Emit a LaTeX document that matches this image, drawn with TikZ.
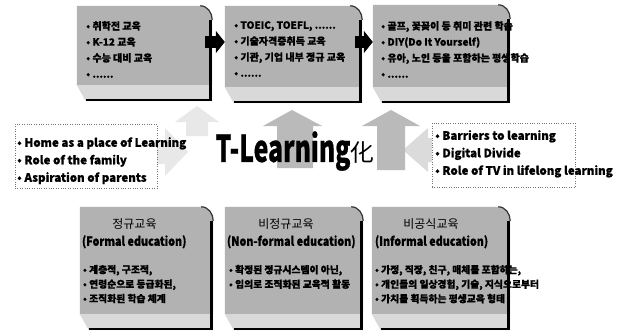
\documentclass[tikz,border=0pt]{standalone}
\usepackage{fontspec}
\usepackage{graphicx}
\setmainfont{Noto Sans CJK KR}[BoldFeatures={FakeBold=0.6}]
\newfontfamily\condfont{Noto Sans CJK KR}[FakeStretch=0.86,BoldFeatures={FakeBold=0.6}]
\usetikzlibrary{arrows.meta,calc}

\tikzset{
  tileface/.style={fill=black!30},
  tilebevel/.style={fill=black!15},
  tileedge/.style={line width=1.2pt, black!80},
  tilebox/.style={draw=none, inner sep=0pt, rectangle},
  sidebox/.style={draw=black!55, dotted, fill=white, inner sep=0pt, rectangle},
  uparrow/.style={fill=black!27},
  sidearrow/.style={fill=black!14},
  faintarrow/.style={fill=black!9},
  blkarrow/.style={line width=12pt, black, -{Triangle[length=9pt,width=22pt]}},
  toptext/.style={anchor=north west, inner sep=0pt, align=left, font=\bfseries\fontsize{10}{16}\selectfont},
  sidetext/.style={anchor=north west, inner sep=0pt, align=left, font=\bfseries\fontsize{11.5}{17.5}\selectfont},
  headtext/.style={inner sep=0pt, font=\fontsize{12}{12}\selectfont},
  engtext/.style={anchor=west, inner sep=0pt, font=\condfont\bfseries\fontsize{12.5}{12.5}\selectfont},
  bottext/.style={anchor=north west, inner sep=0pt, align=left, font=\bfseries\fontsize{9.8}{14.5}\selectfont},
}

\newcommand\tileshape[1]{%
  \fill[tileface] (#1.north west) -- ([xshift=-12pt]#1.north east) to[out=0,in=90] ([yshift=-14pt]#1.north east) -- ([yshift=16pt]#1.south east) -- ([yshift=16pt]#1.south west) -- cycle;
  \fill[tilebevel] ([yshift=16pt]#1.south west) -- ([yshift=16pt]#1.south east) -- (#1.south east) -- ([xshift=9pt]#1.south west) -- cycle;
  \draw[tileedge] ([xshift=-12pt]#1.north east) to[out=0,in=90] ([yshift=-14pt]#1.north east);
  \draw[line width=3.5pt] ([xshift=-1.75pt,yshift=-14pt]#1.north east) -- ([xshift=-1.75pt]#1.south east);
  \draw[line width=2pt] ([xshift=9pt,yshift=1pt]#1.south west) -- ([yshift=1pt]#1.south east);
}

\begin{document}
\begin{tikzpicture}[x=1pt,y=-1pt]
\useasboundingbox[fill=white] (0,0) rectangle (625,332);

% faint arrows
\fill[faintarrow] (186,136) -- (186,122) -- (175,122) -- (197,106) -- (219,122) -- (208,122) -- (208,136) -- cycle;
\fill[faintarrow] (130,140) -- (165,140) -- (165,128) -- (188,152) -- (165,176) -- (165,164) -- (130,164) -- cycle;
% arrow from the right box
\fill[sidearrow] (460,138) -- (428,138) -- (428,128) -- (403,150) -- (428,172) -- (428,162) -- (460,162) -- cycle;
% up arrows
\fill[uparrow] (277,168) -- (277,126) -- (263,126) -- (292,110) -- (322,126) -- (313,126) -- (313,168) -- cycle;
\fill[uparrow] (377,170) -- (377,126) -- (362,126) -- (391,110) -- (420,126) -- (405,126) -- (405,170) -- cycle;

% side boxes
\node[sidebox, minimum width=142pt, minimum height=64pt] (L) at (86,156) {};
\node[sidebox, minimum width=143pt, minimum height=64pt] (R) at (503.5,155) {};
\node[sidetext] (Lt) at (17,137) {• Home as a place of Learning\\• Role of the family\\• Aspiration of parents};
\node[sidetext] (Rt) at (435,130) {• Barriers to learning\\• Digital Divide\\• Role of TV in lifelong learning};

% title
\node[inner sep=0pt, font=\bfseries] (T) at (295,151) {\scalebox{0.67}[1]{\fontsize{37}{37}\selectfont T-Learning}{\fontsize{24}{24}\mdseries\selectfont 化}};

% top boxes
\node[tilebox, minimum width=135pt, minimum height=95pt] (B1) at (144.5,53.5) {};
\node[tilebox, minimum width=137pt, minimum height=97pt] (B2) at (293.5,54.5) {};
\node[tilebox, minimum width=137pt, minimum height=98pt] (B3) at (441.5,54) {};
\tileshape{B1}
\tileshape{B2}
\tileshape{B3}
\node[toptext] (B1t) at (86,21) {• 취학전 교육\\• K-12 교육\\• 수능 대비 교육\\• ......};
\node[toptext] (B2t) at (234,21) {• TOEIC, TOEFL, ......\\• 기술자격증취득 교육\\• 기관, 기업 내부 정규 교육\\• ......};
\node[toptext] (B3t) at (381,21) {• 골프, 꽃꽂이 등 취미 관련 학습\\• DIY(Do It Yourself)\\• 유아, 노인 등을 포함하는 평생학습\\• ......};

\coordinate (ar) at (0,42);
\draw[blkarrow] ([xshift=-7pt]B1.east |- ar) -- ([xshift=0pt]B2.west |- ar);
\draw[blkarrow] ([xshift=-7pt]B2.east |- ar) -- ([xshift=0pt]B3.west |- ar);

% bottom boxes
\node[tilebox, minimum width=133pt, minimum height=123pt] (B4) at (146.5,268.5) {};
\node[tilebox, minimum width=138pt, minimum height=123pt] (B5) at (294,268.5) {};
\node[tilebox, minimum width=138pt, minimum height=123pt] (B6) at (441,268.5) {};
\tileshape{B4}
\tileshape{B5}
\tileshape{B6}

\node[headtext] (B4h) at ($(B4.north)+(-12,17)$) {정규교육};
\node[headtext] (B5h) at ($(B5.north)+(-8,17)$) {비정규교육};
\node[headtext] (B6h) at ($(B6.north)+(-10,17)$) {비공식교육};
\node[engtext] (B4e) at ($(B4.north west)+(2,35)$) {(Formal education)};
\node[engtext] (B5e) at ($(B5.north west)+(2,35)$) {(Non-formal education)};
\node[engtext] (B6e) at ($(B6.north west)+(3,35)$) {(Informal education)};
\node[bottext] (B4b) at ($(B4.north west)+(3,58)$) {• 계층적, 구조적,\\• 연령순으로 등급화된,\\• 조직화된 학습 체계};
\node[bottext] (B5b) at ($(B5.north west)+(4,58)$) {• 확정된 정규시스템이 아닌,\\• 임의로 조직화된 교육적 활동};
\node[bottext] (B6b) at ($(B6.north west)+(3,58)$) {• 가정, 직장, 친구, 매체를 포함하는,\\• 개인들의 일상경험, 기술, 지식으로부터\\• 가치를 획득하는 평생교육 형태};
\end{tikzpicture}
\end{document}
